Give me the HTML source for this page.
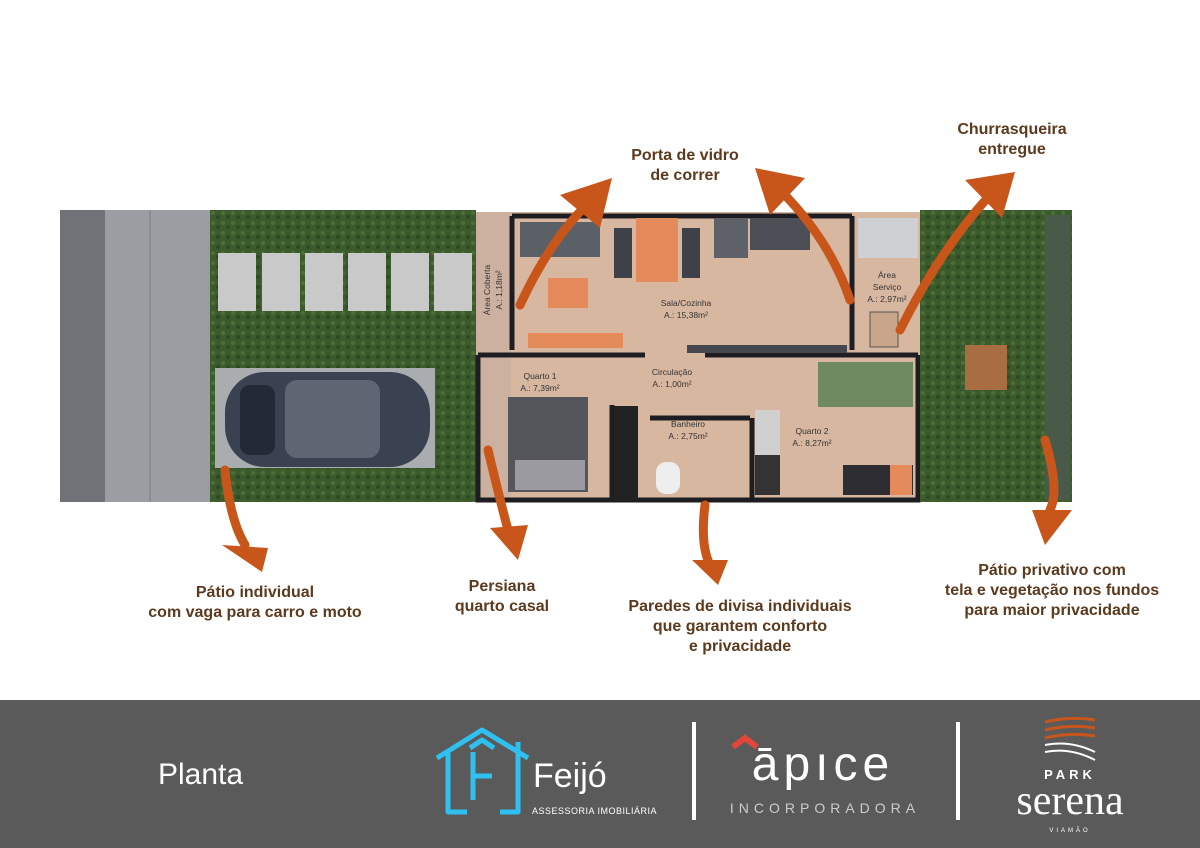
<!DOCTYPE html>
<html><head><meta charset="utf-8"><style>
body{margin:0;width:1200px;height:848px;overflow:hidden;background:#fff;font-family:"Liberation Sans",sans-serif}
svg{display:block}
</style></head><body>
<svg width="1200" height="848" viewBox="0 0 1200 848" xmlns="http://www.w3.org/2000/svg">
<defs><pattern id="g" width="10" height="10" patternUnits="userSpaceOnUse"><rect width="10" height="10" fill="#3c5b2c"/><circle cx="3" cy="3" r="2" fill="#4d6e37"/><circle cx="8" cy="7" r="2" fill="#2f4a22"/></pattern></defs>
<rect width="1200" height="700" fill="#fff"/>
<!-- sidewalk -->
<rect x="60" y="210" width="45" height="292" fill="#6f7378"/>
<rect x="105" y="210" width="106" height="292" fill="#9a9ea3"/>
<line x1="150" y1="210" x2="150" y2="502" stroke="#8a8e93" stroke-width="2"/>
<!-- left grass -->
<rect x="210" y="210" width="266" height="292" fill="url(#g)"/>
<g fill="#c9c9c9">
<rect x="218" y="253" width="38" height="58"/><rect x="262" y="253" width="38" height="58"/><rect x="305" y="253" width="38" height="58"/><rect x="348" y="253" width="38" height="58"/><rect x="391" y="253" width="38" height="58"/><rect x="434" y="253" width="38" height="58"/>
</g>
<rect x="215" y="368" width="220" height="100" fill="#a9adb0"/>
<!-- car -->
<rect x="225" y="372" width="205" height="95" rx="40" fill="#3a4150"/>
<rect x="285" y="380" width="95" height="78" rx="12" fill="#5e6674"/>
<rect x="240" y="385" width="35" height="70" rx="10" fill="#232935"/>
<!-- house floor -->
<rect x="476" y="212" width="446" height="290" fill="#d8b7a1"/>
<rect x="476" y="212" width="35" height="290" fill="#cdb1a0"/>
<!-- walls -->
<g stroke="#1e1e22" stroke-width="5" fill="none">
<path d="M512 216 H852 M512 216 V350 M852 216 V350"/>
<path d="M478 355 H645 M705 355 H918 M478 355 V500 H918 V355"/>
<path d="M650 418 H750 M752 418 V500 M612 405 V500"/>
</g>
<!-- furniture -->
<rect x="520" y="222" width="80" height="35" fill="#5b5f66"/>
<rect x="548" y="278" width="40" height="30" fill="#e58a5a"/>
<rect x="636" y="218" width="42" height="64" fill="#e58a5a"/>
<rect x="614" y="228" width="18" height="50" fill="#3e4248"/>
<rect x="682" y="228" width="18" height="50" fill="#3e4248"/>
<rect x="714" y="218" width="34" height="40" fill="#5e6168"/>
<rect x="750" y="218" width="60" height="32" fill="#4b4e55"/>
<rect x="528" y="333" width="95" height="15" fill="#e58a5a"/>
<rect x="687" y="345" width="160" height="8" fill="#44474e"/>
<rect x="818" y="362" width="95" height="45" fill="#6e8a5e"/>
<rect x="508" y="397" width="80" height="95" fill="#55565c"/>
<rect x="515" y="460" width="70" height="30" fill="#9a9aa0"/>
<rect x="614" y="406" width="24" height="94" fill="#222"/>
<rect x="755" y="410" width="25" height="45" fill="#d0d0d0"/>
<rect x="755" y="455" width="25" height="40" fill="#333"/>
<rect x="843" y="465" width="70" height="30" fill="#2d2d33"/>
<rect x="890" y="465" width="22" height="30" fill="#e58a5a"/>
<rect x="656" y="462" width="24" height="32" rx="10" fill="#eee"/>
<rect x="858" y="218" width="60" height="40" fill="#cfd0d2"/>
<rect x="870" y="312" width="28" height="35" fill="#c9a58a" stroke="#555"/>
<g font-size="8.5" fill="#333" text-anchor="middle">
<text x="686" y="306">Sala/Cozinha</text><text x="686" y="318">A.: 15,38m²</text>
<text x="672" y="375">Circulação</text><text x="672" y="387">A.: 1,00m²</text>
<text x="540" y="379">Quarto 1</text><text x="540" y="391">A.: 7,39m²</text>
<text x="688" y="427">Banheiro</text><text x="688" y="439">A.: 2,75m²</text>
<text x="812" y="434">Quarto 2</text><text x="812" y="446">A.: 8,27m²</text>
<text x="887" y="278">Área</text><text x="887" y="290">Serviço</text><text x="887" y="302">A.: 2,97m²</text>
<text transform="translate(490,290) rotate(-90)">Área Coberta</text>
<text transform="translate(502,290) rotate(-90)">A.: 1,18m²</text>
</g>
<!-- right grass -->
<rect x="920" y="210" width="152" height="292" fill="url(#g)"/>
<rect x="1045" y="215" width="25" height="285" fill="#4a5a4a"/>
<rect x="965" y="345" width="42" height="45" fill="#a86d40"/>
<!-- arrows -->
<g fill="#c8561a" stroke="#c8561a" stroke-width="9" stroke-linecap="round">
<path d="M520 305 Q555 230 598 195" fill="none"/><polygon points="560,195 612,178 600,228" stroke="none"/>
<path d="M850 300 Q830 240 780 190" fill="none"/><polygon points="755,168 805,178 770,215" stroke="none"/>
<path d="M900 330 Q940 250 990 195" fill="none"/><polygon points="965,180 1015,172 1002,218" stroke="none"/>
<path d="M225 470 Q230 520 245 545" fill="none"/><polygon points="222,545 268,548 262,572" stroke="none"/>
<path d="M488 450 Q500 500 508 530" fill="none"/><polygon points="490,528 528,525 518,560" stroke="none"/>
<path d="M705 505 Q700 545 710 565" fill="none"/><polygon points="692,560 728,560 718,585" stroke="none"/>
<path d="M1045 440 Q1060 490 1050 510" fill="none"/><polygon points="1032,510 1072,510 1045,545" stroke="none"/>
</g>
<g font-size="16" font-weight="bold" fill="#5b3a1e" text-anchor="middle">
<text x="685" y="160">Porta de vidro</text><text x="685" y="180">de correr</text>
<text x="1012" y="134">Churrasqueira</text><text x="1012" y="154">entregue</text>
<text x="255" y="597">Pátio individual</text><text x="255" y="617">com vaga para carro e moto</text>
<text x="502" y="591">Persiana</text><text x="502" y="611">quarto casal</text>
<text x="740" y="611">Paredes de divisa individuais</text><text x="740" y="631">que garantem conforto</text><text x="740" y="651">e privacidade</text>
<text x="1052" y="575">Pátio privativo com</text><text x="1052" y="595">tela e vegetação nos fundos</text><text x="1052" y="615">para maior privacidade</text>
</g>
<!-- footer -->
<rect x="0" y="700" width="1200" height="148" fill="#5a5a5a"/>
<text x="158" y="784" font-size="30" fill="#fff">Planta</text>
<g stroke="#2fc0ef" stroke-width="5" fill="none" stroke-linejoin="round">
<path d="M437 758 L482 730 L528 758"/><path d="M448 752 V812 H467"/><path d="M518 742 V812 H500"/>
<path d="M470 748 L482 740 L494 748 M473 752 V800 M473 776 H492"/>
</g>
<text x="533" y="787" font-size="34" fill="#fff">Feijó</text>
<text x="532" y="814" font-size="9" fill="#fff" letter-spacing="0.5">ASSESSORIA IMOBILIÁRIA</text>
<rect x="692" y="722" width="4" height="98" fill="#fff"/>
<rect x="956" y="722" width="4" height="98" fill="#fff"/>
<path d="M733 747 L745 738 L757 747" stroke="#e0463a" stroke-width="6" fill="none"/>
<text x="823" y="780" font-size="48" fill="#fff" text-anchor="middle" letter-spacing="5">āpıce</text>
<text x="825" y="813" font-size="14" fill="#ccc" text-anchor="middle" letter-spacing="5">INCORPORADORA</text>
<g stroke="#c8561a" stroke-width="3" fill="none"><path d="M1045 722 Q1070 716 1095 720 M1045 730 Q1070 724 1095 728 M1045 738 Q1070 732 1095 736"/></g>
<g stroke="#fff" stroke-width="2" fill="none"><path d="M1045 745 Q1070 740 1095 752 M1045 752 Q1070 747 1095 760"/></g>
<text x="1070" y="779" font-size="13" fill="#fff" text-anchor="middle" font-weight="bold" letter-spacing="4">PARK</text>
<text x="1070" y="814" font-size="42" fill="#fff" text-anchor="middle" font-family="Liberation Serif,serif">serena</text>
<text x="1070" y="832" font-size="6" fill="#fff" text-anchor="middle" letter-spacing="3">VIAMÃO</text>
</svg>
</body></html>
